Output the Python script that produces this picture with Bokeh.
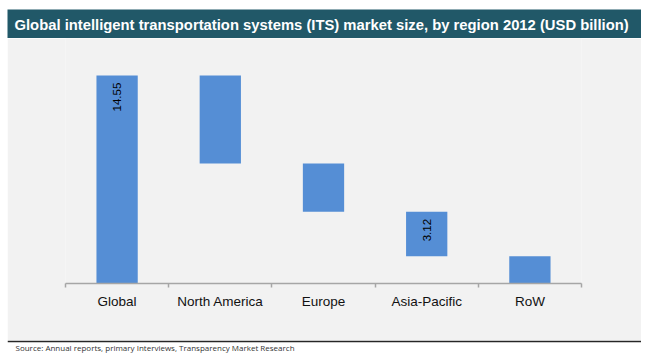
import math
from bokeh.plotting import figure
from bokeh.models import Range1d, FixedTicker, Label, ColumnDataSource, Span, Spacer
from bokeh.layouts import column, row
from bokeh.embed import file_html
from bokeh.resources import INLINE
from bokeh.core.properties import value

title_text = "Global intelligent transportation systems (ITS) market size, by region 2012 (USD billion)"
source_text = "Source: Annual reports, primary Interviews, Transparency Market Research"
categories = ["Global", "North America", "Europe", "Asia-Pacific", "RoW"]
values = [14.55, 6.15, 3.38, 3.12, 1.90]
data_labels = ["14.55", "", "", "3.12", ""]

# waterfall geometry from the values
tops, bottoms = [values[0]], [0.0]
level = values[0]
for v in values[1:]:
    tops.append(level)
    level -= v
    bottoms.append(level)
xs = [i + 0.5 for i in range(len(categories))]

BAR = "#558ED5"
PANEL = "#F2F2F2"
TEAL = "#215868"
W = 634

# ---- title strip
t = figure(width=W, height=38, x_range=Range1d(0, W), y_range=Range1d(0, 29),
           output_backend="svg", toolbar_location=None, frame_align=False,
           x_axis_location=None, y_axis_location=None,
           min_border_left=0, min_border_right=0, min_border_top=9, min_border_bottom=0,
           background_fill_color=TEAL, border_fill_color="white", outline_line_color=None)
t.grid.visible = False
t.add_layout(Label(x=7, y=14, text=title_text, text_color="white",
                   text_font="Liberation Sans", text_font_style="bold",
                   text_font_size="14.8px", text_baseline="middle"))

# ---- chart
p = figure(width=W, height=302, x_range=Range1d(0, len(categories)), y_range=Range1d(0, 17.14),
           output_backend="svg", toolbar_location=None, y_axis_location=None, frame_align=False,
           min_border_left=58, min_border_right=60, min_border_top=0, min_border_bottom=57,
           background_fill_color=PANEL, border_fill_color=PANEL, outline_line_color=None)
p.grid.visible = False

src = ColumnDataSource(dict(x=xs, top=tops, bottom=bottoms))
p.vbar(x="x", width=0.4, top="top", bottom="bottom", source=src,
       fill_color=BAR, line_color=None)

lx = [x for x, l in zip(xs, data_labels) if l]
ly = [tp - 0.5 for tp, l in zip(tops, data_labels) if l]
lt = [l for l in data_labels if l]
p.text(x=lx, y=ly, text=lt, angle=math.pi / 2, text_align="right", text_baseline="middle",
       text_font=value("Liberation Sans"), text_font_size="11.5px", text_color="#000000")

ax = p.xaxis[0]
ax.ticker = FixedTicker(ticks=xs, minor_ticks=list(range(len(categories) + 1)))
ax.major_label_overrides = {x: c for x, c in zip(xs, categories)}
ax.axis_line_color = "#A6A6A6"
ax.axis_line_width = 1.5
ax.major_tick_line_color = None
ax.major_tick_in = 0
ax.major_tick_out = 0
ax.minor_tick_line_color = "#A6A6A6"
ax.minor_tick_line_width = 1.5
ax.minor_tick_in = 0
ax.minor_tick_out = 4
ax.major_label_standoff = 6
ax.major_label_text_font = "Liberation Sans"
ax.major_label_text_font_size = "13.5px"
ax.major_label_text_color = "#111111"

# ---- source strip
s = figure(width=W, height=19, x_range=Range1d(0, W), y_range=Range1d(0, 19),
           output_backend="svg", toolbar_location=None, frame_align=False,
           x_axis_location=None, y_axis_location=None,
           min_border_left=0, min_border_right=0, min_border_top=0, min_border_bottom=0,
           background_fill_color="white", border_fill_color="white", outline_line_color=None)
s.grid.visible = False
s.add_layout(Span(location=18.2, dimension="width", line_color="#262626", line_width=1.8))
s.add_layout(Label(x=8, y=12, text=source_text, text_color="#333333",
                   text_font="Open Sans", text_font_size="8px", text_baseline="middle"))

layout = row(Spacer(width=7, height=359), column(t, p, s, spacing=0), spacing=0)
open("out.html", "w").write(file_html(layout, INLINE))
